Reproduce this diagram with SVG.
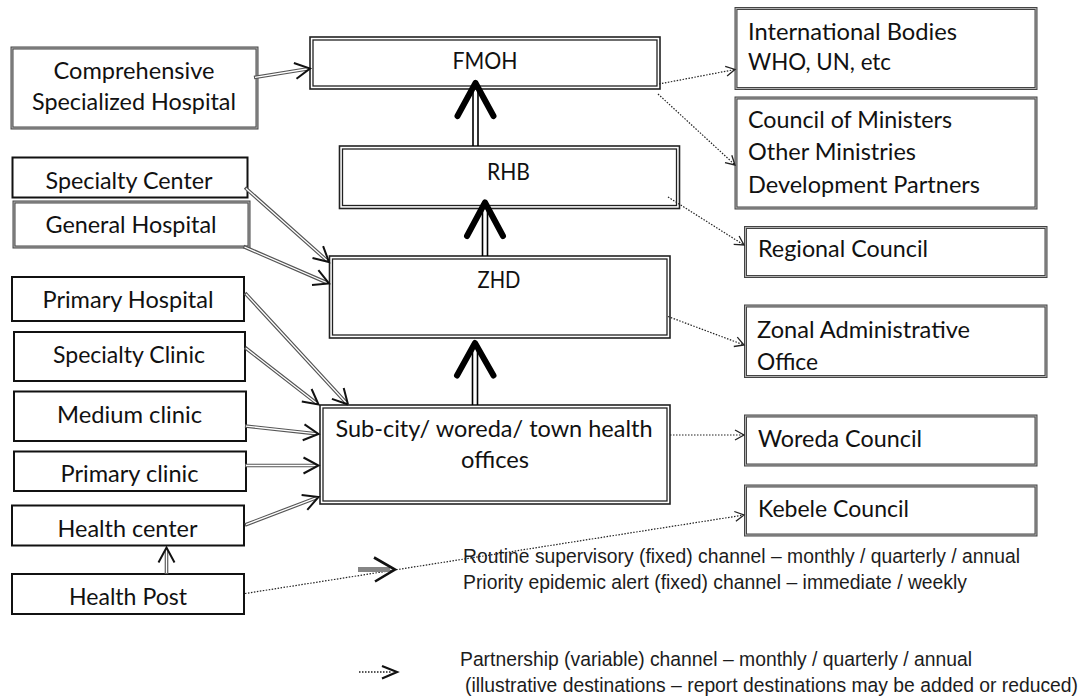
<svg xmlns="http://www.w3.org/2000/svg" width="1081" height="698" viewBox="0 0 1081 698">
<style>
.t{font-family:Lato,"Liberation Sans",sans-serif;font-size:22.5px;fill:#111}
.c{text-anchor:middle}
.lg{font-family:"Liberation Sans",Arial,sans-serif;font-size:19.3px;fill:#1c1c1c}
.sb{fill:#fff;stroke:#111;stroke-width:2}
.gb{fill:#fff;stroke:#444;stroke-width:3}
.gbi{fill:none;stroke:#b0b0b0;stroke-width:1}
.db{fill:#fff;stroke:#222;stroke-width:1.6}
.dbi{fill:none;stroke:#222;stroke-width:1.3}
.dl{fill:none;stroke:#555;stroke-width:3.6}
.dlw{fill:none;stroke:#fff;stroke-width:1.3}
.hd{fill:none;stroke:#111;stroke-width:2;stroke-linejoin:miter}
.dt{fill:none;stroke:#222;stroke-width:1.2;stroke-dasharray:1.5 1.5}
.hs{fill:none;stroke:#222;stroke-width:1.3}
.tk{fill:none;stroke:#000;stroke-width:1.6}
.th{fill:none;stroke:#000;stroke-width:6;stroke-linecap:round;stroke-linejoin:round}
</style>

<g id="comprehensive">
<rect class="gb" x="12" y="48" width="245" height="80"/><rect class="gbi" x="12" y="48" width="245" height="80"/>
<text class="t c" x="134" y="79" textLength="161" lengthAdjust="spacingAndGlyphs">Comprehensive</text>
<text class="t c" x="134" y="110" textLength="204" lengthAdjust="spacingAndGlyphs">Specialized Hospital</text>
</g>
<g id="specialty-center">
<rect class="sb" x="12.5" y="157.5" width="235" height="40"/>
<text class="t c" x="129" y="189" textLength="167" lengthAdjust="spacingAndGlyphs">Specialty Center</text>
</g>
<g id="general-hospital">
<rect class="gb" x="14" y="202" width="235" height="45"/><rect class="gbi" x="14" y="202" width="235" height="45"/>
<text class="t c" x="131" y="233" textLength="171" lengthAdjust="spacingAndGlyphs">General Hospital</text>
</g>
<g id="primary-hospital">
<rect class="sb" x="12" y="277" width="232" height="44"/>
<text class="t c" x="128" y="308" textLength="171" lengthAdjust="spacingAndGlyphs">Primary Hospital</text>
</g>
<g id="specialty-clinic">
<rect class="sb" x="14" y="332" width="231" height="49"/>
<text class="t c" x="129" y="363" textLength="152" lengthAdjust="spacingAndGlyphs">Specialty Clinic</text>
</g>
<g id="medium-clinic">
<rect class="sb" x="14" y="391.5" width="232" height="49.5"/>
<text class="t c" x="129.5" y="422.5" textLength="145" lengthAdjust="spacingAndGlyphs">Medium clinic</text>
</g>
<g id="primary-clinic">
<rect class="sb" x="14" y="451.5" width="232" height="39.5"/>
<text class="t c" x="129.5" y="481.5" textLength="138" lengthAdjust="spacingAndGlyphs">Primary clinic</text>
</g>
<g id="health-center">
<rect class="sb" x="12" y="505.5" width="232" height="40"/>
<text class="t c" x="127.5" y="536.5" textLength="140" lengthAdjust="spacingAndGlyphs">Health center</text>
</g>
<g id="health-post">
<rect class="sb" x="12" y="574" width="232" height="40"/>
<text class="t c" x="128" y="605" textLength="118" lengthAdjust="spacingAndGlyphs">Health Post</text>
</g>

<g id="fmoh">
<rect class="db" x="310" y="37" width="350" height="52"/><rect class="dbi" x="313" y="40" width="344" height="46"/>
<text class="t c" x="485" y="69" textLength="65" lengthAdjust="spacingAndGlyphs">FMOH</text>
</g>
<g id="rhb">
<rect class="db" x="339.5" y="146" width="340" height="62.5"/><rect class="dbi" x="342.5" y="149" width="334" height="56.5"/>
<text class="t c" x="508.5" y="180" textLength="43" lengthAdjust="spacingAndGlyphs">RHB</text>
</g>
<g id="zhd">
<rect class="db" x="329.5" y="256" width="340.5" height="82"/><rect class="dbi" x="332.5" y="259" width="334.5" height="76"/>
<text class="t c" x="499" y="287.5" textLength="43" lengthAdjust="spacingAndGlyphs">ZHD</text>
</g>
<g id="subcity">
<rect class="db" x="320" y="405" width="350" height="99"/><rect class="dbi" x="323" y="408" width="344" height="93"/>
<text class="t c" x="494" y="436.5" textLength="317" lengthAdjust="spacingAndGlyphs">Sub-city/ woreda/ town health</text>
<text class="t c" x="495" y="468" textLength="68" lengthAdjust="spacingAndGlyphs">offices</text>
</g>

<g id="international">
<rect class="gb" x="736" y="8.5" width="300" height="80"/><rect class="gbi" x="736" y="8.5" width="300" height="80"/>
<text class="t" x="748" y="40" textLength="209" lengthAdjust="spacingAndGlyphs">International Bodies</text>
<text class="t" x="748" y="70" textLength="143" lengthAdjust="spacingAndGlyphs">WHO, UN, etc</text>
</g>
<g id="council-ministers">
<rect class="gb" x="736" y="98" width="300" height="110"/><rect class="gbi" x="736" y="98" width="300" height="110"/>
<text class="t" x="748" y="128" textLength="204" lengthAdjust="spacingAndGlyphs">Council of Ministers</text>
<text class="t" x="748" y="160" textLength="168" lengthAdjust="spacingAndGlyphs">Other Ministries</text>
<text class="t" x="748" y="192.5" textLength="232" lengthAdjust="spacingAndGlyphs">Development Partners</text>
</g>
<g id="regional-council">
<rect class="gb" x="745.5" y="227.5" width="300.5" height="49"/><rect class="gbi" x="745.5" y="227.5" width="300.5" height="49"/>
<text class="t" x="758" y="257" textLength="170" lengthAdjust="spacingAndGlyphs">Regional Council</text>
</g>
<g id="zonal-admin">
<rect class="gb" x="745.5" y="306" width="300.5" height="70.5"/><rect class="gbi" x="745.5" y="306" width="300.5" height="70.5"/>
<text class="t" x="757" y="338" textLength="213" lengthAdjust="spacingAndGlyphs">Zonal Administrative</text>
<text class="t" x="757" y="370" textLength="61" lengthAdjust="spacingAndGlyphs">Office</text>
</g>
<g id="woreda-council">
<rect class="gb" x="745.5" y="416" width="290.5" height="49"/><rect class="gbi" x="745.5" y="416" width="290.5" height="49"/>
<text class="t" x="758" y="446.5" textLength="164" lengthAdjust="spacingAndGlyphs">Woreda Council</text>
</g>
<g id="kebele-council">
<rect class="gb" x="745.5" y="486" width="290.5" height="49"/><rect class="gbi" x="745.5" y="486" width="290.5" height="49"/>
<text class="t" x="758" y="517" textLength="151" lengthAdjust="spacingAndGlyphs">Kebele Council</text>
</g>

<g id="connectors">
<!-- thin double-line reporting arrows -->
<path class="dl" d="M254,77.5 L307,69 M245,187.5 L327,260.5 M243.5,246.5 L326.5,282.5 M245,293 L346,402.5 M245,347.5 L316,402.7 M245,426 L315.5,433.7 M245,465.5 L315.5,465.5 M245,525 L315.5,498.1 M166.5,574 L166.5,550.5"/>
<path class="dlw" d="M255,77.3 L307,69 M246,188.4 L327,260.5 M244.5,247 L326.5,282.5 M246,294 L346,402.5 M246,348.3 L316,402.7 M246,426.1 L315.5,433.7 M246,465.5 L315.5,465.5 M246,524.6 L315.5,498.1 M166.5,573 L166.5,550.5"/>
<path class="hd" d="M293.9,63 L310,68.5 L296.5,78.8 M312.5,258 L329,262 L323.1,246.1 M312,284.9 L329,283.5 L318.4,270.2 M331.9,398.9 L348,404.5 M343.7,388 L348,404.5 M301.8,401.6 L318.5,404.5 L311.6,389 M302.7,440.3 L318.5,434 L304.5,424.4 M303.5,473.5 L318.5,465.5 L303.5,457.5 M307.3,509.8 L318.5,497 L301.6,494.9 M174.5,562.5 L166.5,547.5 L158.5,562.5"/>
<!-- thick upward arrows -->
<path class="tk" d="M473,146 L473,86 M478,146 L478,86 M482.5,256 L482.5,205 M487.5,256 L487.5,205 M472.5,405 L472.5,345 M477.5,405 L477.5,345"/>
<path class="th" d="M457.5,116 L475.5,83 L493.5,116 M467,236 L485,202.5 L503,236 M457,375.5 L475,343 L493.5,375.5"/>
<!-- dotted partnership arrows -->
<path class="dt" d="M659,84 L734,69.7 M658,94 L734,164 M668,197 L743,244.4 M668,316.5 L743,344.6 M670,435 L743,435 M245,593.5 L743,515.2"/>
<path class="hs" d="M725.2,66.3 L735,69.5 L727.1,76.1 M725,162.6 L735,165 L731.8,155.2 M733.7,244.4 L744,245 L739.1,236 M733.8,346.5 L744,345 L737.3,337.2 M735,440 L744,435 L735,430 M734.3,511.5 L744,515 L735.9,521.3"/>
</g>

<g id="legend">
<line x1="358" y1="569.5" x2="390" y2="569.5" stroke="#858585" stroke-width="5"/>
<path d="M374,557.5 L395,569.5 L375,581.5" fill="none" stroke="#111" stroke-width="2.6"/>
<line x1="359" y1="672" x2="391" y2="672" stroke="#555" stroke-width="2" stroke-dasharray="1.5 1.5"/>
<path d="M382,666 L397,672 L382,678.5" fill="none" stroke="#111" stroke-width="2.2"/>
<text class="lg" x="463" y="563" textLength="557" lengthAdjust="spacingAndGlyphs">Routine supervisory (fixed) channel – monthly / quarterly / annual</text>
<text class="lg" x="463" y="588.5" textLength="504" lengthAdjust="spacingAndGlyphs">Priority epidemic alert (fixed) channel – immediate / weekly</text>
<text class="lg" x="460" y="666" textLength="512" lengthAdjust="spacingAndGlyphs">Partnership (variable) channel – monthly / quarterly / annual</text>
<text class="lg" x="465" y="692" textLength="613" lengthAdjust="spacingAndGlyphs">(illustrative destinations – report destinations may be added or reduced)</text>
</g>
</svg>
